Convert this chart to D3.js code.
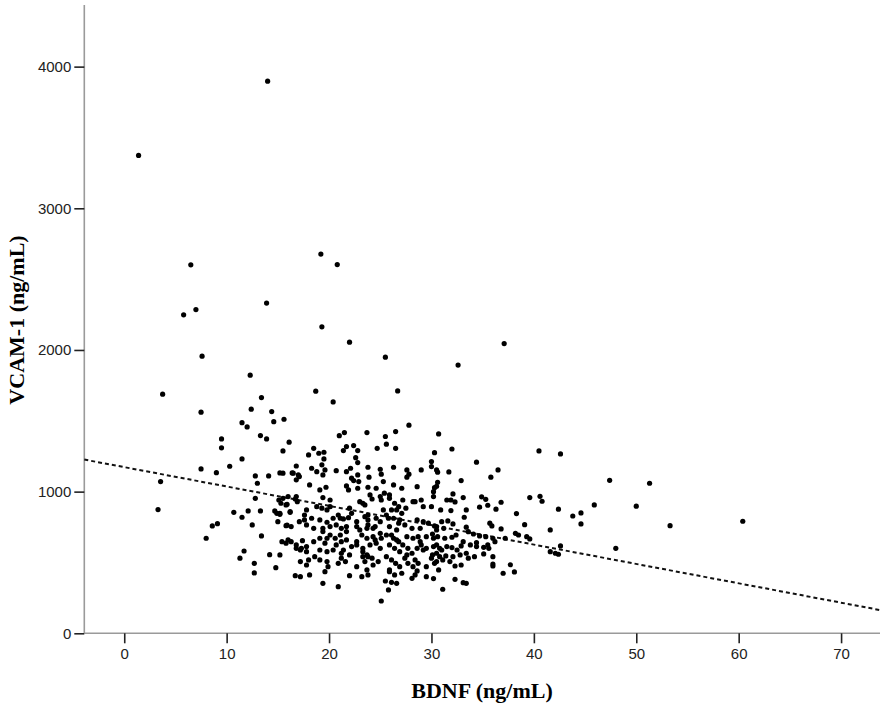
<!DOCTYPE html>
<html>
<head>
<meta charset="utf-8">
<script src="https://cdn.jsdelivr.net/npm/d3@7"></script>
<style>
  body { margin: 0; background: #fff; }
  svg { display: block; }
</style>
</head>
<body>
<div id="chart"></div>
<script>
// axis ticks
var xTicks = [0, 10, 20, 30, 40, 50, 60, 70];
var yTicks = [0, 1000, 2000, 3000, 4000];

// fit line: VCAM-1 = a + b * BDNF
var fitIntercept = 1173;
var fitSlope = -13.67;

// [BDNF, VCAM-1]
var points = [
  // sparse high values
  [1.4,3373],[14.0,3897],[6.5,2601],[19.2,2677],[20.8,2603],[13.9,2331],[7.0,2285],[5.8,2248],
  [19.3,2163],[22.0,2055],[37.1,2045],[25.5,1949],[7.6,1956],[32.6,1893],[12.3,1822],[3.75,1688],
  [18.7,1709],[26.7,1711],[13.4,1664],[20.4,1633],[7.5,1561],[12.4,1582],[14.4,1565],[15.6,1511],
  [14.6,1494],[11.5,1487],[12.0,1457],[27.8,1469],
  // right tail
  [47.4,1080],[51.3,1059],[45.9,906],[50.0,897],[44.6,850],[44.6,772],[53.3,760],[60.4,791],[48.0,600],
  // 30-44
  [30.7,1407],[32.0,1301],[30.3,1275],[40.5,1287],[42.6,1266],[34.4,1208],[30.0,1212],[30.0,1177],
  [36.5,1153],[30.6,1137],[31.7,1139],[35.8,1102],[32.9,1078],[30.6,1066],[30.5,1038],[30.3,1028],
  [30.2,965],[32.1,984],[31.5,941],[31.9,941],[32.3,927],[33.1,958],[34.9,963],[35.3,946],[35.5,904],
  [34.7,890],[36.8,925],[36.3,876],[39.6,958],[40.6,967],[40.8,932],[42.4,876],[43.8,828],[38.3,845],
  [33.4,871],[30.9,871],[31.9,866],[33.2,819],[39.1,767],[35.7,777],[35.9,758],[36.8,737],[41.6,730],
  [31.0,788],[31.6,793],[32.1,772],[30.3,758],[30.1,701],[30.6,682],[31.3,671],[32.0,678],[32.4,694],
  [33.4,749],[33.6,717],[34.1,701],[34.7,687],[35.3,682],[36.0,671],[37.2,671],[38.2,706],[38.5,694],
  [39.3,682],[39.6,666],[33.1,647],[32.9,617],[33.8,624],[34.4,640],[34.4,612],[35.1,607],[35.5,624],
  [35.6,600],[36.2,647],[30.2,612],[30.8,600],[31.5,612],[32.0,605],[32.5,588],[30.1,553],[30.8,541],
  [31.4,546],[32.1,541],[32.8,553],[33.4,565],[33.6,530],[30.3,494],[31.1,518],[31.8,506],[32.3,475],
  [32.9,482],[34.2,541],[35.1,560],[36.0,541],[36.0,489],[36.0,475],[37.7,484],[37.0,424],[38.1,433],
  [30.2,386],[32.3,381],[33.1,357],[33.4,353],[31.1,311],[41.6,576],[42.1,565],[42.4,558],[42.6,617],
  // 15-30, lower band
  [15.5,953],[16.7,948],[15.9,911],[19.4,958],[20.1,941],[18.8,894],[19.3,883],[19.8,871],[17.8,871],
  [23.0,929],[23.5,906],[24.2,948],[25.1,941],[25.9,953],[26.4,918],[27.2,941],[27.5,883],[26.6,871],
  [25.3,871],[28.4,929],[29.2,894],[22.0,883],[22.2,847],[15.2,847],[16.2,859],
  [17.6,835],[18.3,812],[17.1,788],[17.8,765],[15.8,760],[16.3,753],[19.1,800],[19.8,784],[20.4,812],
  [20.9,835],[21.4,807],[21.9,816],[20.7,765],[20.1,753],[19.4,741],[21.2,741],[21.7,753],
  [22.7,788],[23.5,823],[23.8,800],[24.6,812],[25.0,788],[24.5,753],[23.7,741],[23.0,730],
  [25.6,835],[26.3,812],[26.8,777],[25.9,753],[27.4,765],[28.1,741],[28.6,800],[29.2,788],[29.7,777],
  [28.9,741],[30.5,730],[26.6,730],
  [15.4,647],[16.0,659],[16.8,624],[17.3,600],[17.8,612],[18.5,647],[19.1,671],[19.6,636],[20.1,694],
  [20.6,671],[20.7,624],[21.2,647],[21.7,659],[22.2,612],[22.7,624],[21.4,588],[20.4,588],[19.8,576],
  [23.2,694],[23.7,671],[24.3,682],[25.0,706],[24.6,636],[24.0,624],[23.3,600],[25.0,600],
  [25.6,694],[26.3,671],[26.8,647],[27.2,624],[27.7,600],[25.9,624],[26.4,600],[26.9,576],[28.2,671],
  [28.9,647],[29.5,682],[30.2,671],[30.5,624],[28.6,600],[29.2,588],
  [17.2,506],[17.8,482],[18.6,541],[19.1,518],[19.8,506],[19.9,470],[20.9,494],[21.2,530],[22.0,553],
  [22.7,470],[23.3,541],[23.5,506],[23.7,447],[23.8,412],[24.3,482],[23.2,400],
  [25.6,541],[26.1,518],[26.5,494],[26.9,470],[27.4,530],[27.7,494],[28.2,470],[25.9,447],[26.4,412],
  [29.5,470],[30.0,530],[30.5,506],
  [16.7,407],[17.2,400],[18.1,412],[19.4,353],[20.9,329],[22.0,407],[25.5,369],[26.1,360],[26.6,353],
  [25.8,306],[25.1,228],[29.5,400],[28.1,388],[28.6,440],
  // dense core, second reading
  [21.7,718],[21.1,694],[21.2,565],[21.6,506],[22.7,647],[23.3,576],[23.8,541],[17.6,800],[18.5,741],
  [19.4,718],[19.8,671],[16.8,600],[17.8,576],[18.0,518],[19.1,588],[19.6,435],[22.7,753],[23.8,765],
  [16.3,647],[20.1,894],[21.1,812],
  [26.8,894],[26.1,871],[27.1,847],[30.0,894],[23.8,835],[25.8,812],[26.9,800],[30.5,753],[31.2,741],
  [24.3,741],[24.5,659],[25.1,671],[26.1,694],[26.6,659],[27.6,553],[28.1,565],[28.4,518],[28.7,494],
  [29.0,624],[29.5,600],[30.5,565],[31.0,588],[23.7,553],[24.2,530],[24.8,506],[25.9,435],[27.1,424],
  [28.4,412],[30.7,447],[27.6,682],[28.7,682],
  // 15-30, upper band
  [16.1,1349],[15.5,1287],[21.0,1395],[21.5,1417],[23.7,1417],[25.5,1389],[25.6,1335],[26.5,1424],
  [26.5,1306],[18.5,1306],[18.0,1259],[19.0,1271],[19.5,1278],[19.5,1231],[21.4,1290],[21.7,1318],
  [22.4,1325],[22.8,1290],[22.6,1240],[22.8,1205],[24.7,1306],[30.5,1153],
  [16.8,1181],[16.5,1130],[17.0,1118],[16.8,1083],[15.5,1130],
  [18.3,1165],[18.8,1141],[19.4,1118],[19.3,1189],[19.6,1153],
  [20.7,1148],[21.7,1141],[22.1,1165],[22.2,1095],[22.8,1118],[22.4,1078],[21.9,1012],[22.8,1024],
  [21.7,1040],[23.8,1172],[23.9,1102],[25.0,1158],[25.1,1123],[25.3,1071],[26.3,1172],[27.6,1153],
  [27.8,1123],[27.6,1102],[29.0,1153],
  [22.9,1071],[23.8,1031],[24.6,1024],[25.4,989],[26.3,1047],[27.1,1024],[24.0,977],[23.3,918],
  [25.0,965],[25.9,977],[18.1,1047],[19.1,1012],[19.7,1031],[16.0,965],
  [28.6,1035],[30.2,1000],[29.0,941],[28.2,929],
  // below 17
  [13.3,1396],[13.9,1372],[9.5,1372],[9.5,1309],[11.5,1231],[7.5,1160],[9.0,1134],[10.3,1179],
  [3.55,1071],[3.3,873],
  [12.8,1111],[14.1,1111],[15.2,1132],[16.4,1132],[17.1,1106],[13.0,1059],[12.8,953],[15.1,941],
  [15.3,918],[15.8,906],[16.8,965],[16.9,929],[16.2,854],
  [10.7,854],[11.5,819],[12.1,864],[13.3,864],[14.7,864],[14.9,847],[15.2,840],
  [8.6,758],[9.1,774],[8.0,671],[12.5,765],[15.0,788],[15.9,763],[13.4,687],[15.8,636],
  [11.7,581],[11.3,530],[12.7,494],[12.7,426],[14.2,555],[15.2,553],[14.8,463],[17.2,588],[17.4,654]
];

var width = 886, height = 708;
var xMin = -3.9, xMax = 73.8, yMax = 4435;

var svg = d3.select("#chart").append("svg")
  .attr("width", width)
  .attr("height", height);

var x = d3.scaleLinear().domain([xMin, xMax]).range([84.3, 880]);
var y = d3.scaleLinear().domain([0, yMax]).range([633.3, 5]);

// axis lines (grey)
svg.append("line")
  .attr("x1", x(xMin)).attr("x2", x(xMin))
  .attr("y1", y(0)).attr("y2", y(yMax))
  .style("stroke", "#9a9a9a").style("stroke-width", 1.6);
svg.append("line")
  .attr("x1", x(xMin)).attr("x2", x(xMax))
  .attr("y1", y(0)).attr("y2", y(0))
  .style("stroke", "#9a9a9a").style("stroke-width", 1.6);

// x axis ticks + labels
var xAxis = svg.append("g").attr("transform", "translate(0," + y(0) + ")")
  .call(d3.axisBottom(x).tickValues(xTicks).tickSize(10).tickPadding(5).tickFormat(d3.format("d")));
xAxis.select(".domain").remove();
xAxis.selectAll(".tick line").style("stroke", "#222").style("stroke-width", 1.6);
xAxis.selectAll("text")
  .style("font-family", "Liberation Sans, Arial, sans-serif")
  .style("font-size", "15px").style("fill", "#222");

// y axis ticks + labels
var yAxis = svg.append("g").attr("transform", "translate(" + x(xMin) + ",0)")
  .call(d3.axisLeft(y).tickValues(yTicks).tickSize(10).tickPadding(3).tickFormat(d3.format("d")));
yAxis.select(".domain").remove();
yAxis.selectAll(".tick line").style("stroke", "#222").style("stroke-width", 1.6);
yAxis.selectAll("text")
  .style("font-family", "Liberation Sans, Arial, sans-serif")
  .style("font-size", "15px").style("fill", "#222");

// fit line (dashed)
svg.append("line")
  .attr("x1", x(xMin)).attr("y1", y(fitIntercept + fitSlope * xMin))
  .attr("x2", x(xMax)).attr("y2", y(fitIntercept + fitSlope * xMax))
  .style("stroke", "#111")
  .style("stroke-width", 2)
  .style("stroke-dasharray", "4,3");

// points
svg.append("g").selectAll("circle")
  .data(points)
  .enter()
  .append("circle")
  .attr("cx", function(d) { return x(d[0]); })
  .attr("cy", function(d) { return y(d[1]); })
  .attr("r", 2.6)
  .style("fill", "#000");

// axis titles
svg.append("text")
  .attr("x", 482).attr("y", 698)
  .attr("text-anchor", "middle")
  .style("font-family", "Liberation Serif, Times New Roman, serif")
  .style("font-weight", "bold")
  .style("font-size", "22px")
  .text("BDNF (ng/mL)");

svg.append("text")
  .attr("transform", "translate(24,320) rotate(-90)")
  .attr("text-anchor", "middle")
  .style("font-family", "Liberation Serif, Times New Roman, serif")
  .style("font-weight", "bold")
  .style("font-size", "22px")
  .text("VCAM-1 (ng/mL)");
</script>
</body>
</html>
